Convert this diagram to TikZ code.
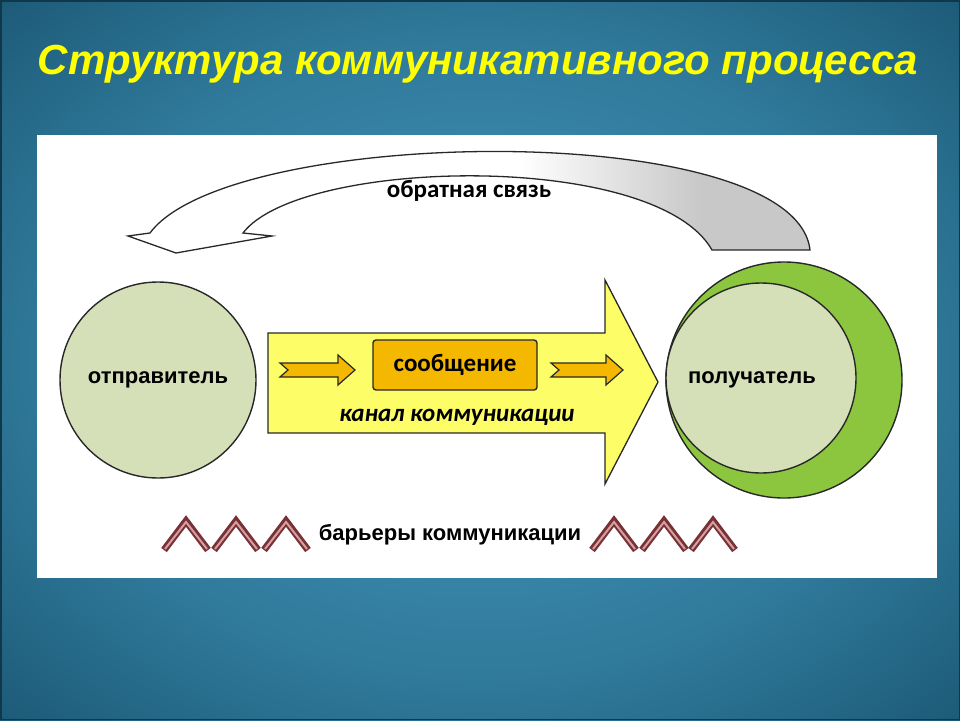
\documentclass[tikz,border=0pt]{standalone}
\usepackage{fontspec}
\setmainfont{Carlito}
\newfontfamily\titlefont{Liberation Sans}
\newfontfamily\arialfont{Liberation Sans}
\usetikzlibrary{shapes.geometric}
\definecolor{bgin}{RGB}{70,152,190}
\definecolor{bgmid}{RGB}{48,122,155}
\definecolor{bgout}{RGB}{22,80,108}
\definecolor{ttl}{RGB}{255,255,0}
\definecolor{circfill}{RGB}{214,224,184}
\definecolor{greenring}{RGB}{140,198,63}
\definecolor{yelarrow}{RGB}{253,253,104}
\definecolor{msgfill}{RGB}{245,184,0}
\definecolor{edge}{RGB}{40,40,40}
\definecolor{barrdark}{RGB}{120,50,55}
\definecolor{barrlight}{RGB}{215,160,160}
\definecolor{fbgray}{RGB}{200,200,200}
\pgfdeclareradialshading{bgshade}{\pgfpoint{0bp}{0bp}}{color(0bp)=(bgin); color(22bp)=(bgmid); color(40bp)=(bgout); color(100bp)=(bgout)}
\tikzset{
  x=1pt, y=-1pt,
  outl/.style={draw=edge, line width=1.4pt},
  smallarrow/.style={outl, fill=msgfill, line width=1.2pt, line join=miter},
  lbl/.style={inner sep=0pt, text=black},
  barr/.style={draw=barrdark, line width=7pt, line join=miter, line cap=butt},
  barrin/.style={draw=barrlight, line width=2pt, line join=miter, line cap=butt},
}
\newcommand{\chev}[1]{%
  \draw[barr] (#1-22,550) -- (#1,521) -- (#1+22,550);
  \draw[barrin] (#1-21,549) -- (#1,522) -- (#1+21,549);
}
\begin{document}
\begin{tikzpicture}
\useasboundingbox (0,0) rectangle (960,720);
% background
\shade[shading=bgshade] (0,0) rectangle (960,720);
\draw[bgout!70!black, line width=1.5pt] (0.75,0.75) rectangle (959.25,719.25);
% title
\node[lbl, text=ttl, font=\titlefont\bfseries\itshape\fontsize{42}{46}\selectfont] (title) at (478,64) {Структура коммуникативного процесса};
% white panel
\fill[white] (37,135) rectangle (937,578);
% feedback arrow
\begin{scope}
\clip (810,250) .. controls (795,118) and (230,125) .. (150,233)
  -- (243,233) .. controls (300,158) and (655,150) .. (712,250) -- cycle;
\shade[left color=white, right color=fbgray] (520,140) rectangle (700,260);
\fill[fbgray] (699,140) rectangle (820,260);
\end{scope}
\draw[outl, line width=1.3pt]
  (810,250) .. controls (795,118) and (230,125) .. (150,233)
  -- (128,236) -- (176,253) -- (272,236) -- (243,233)
  .. controls (300,158) and (655,150) .. (712,250) -- cycle;
\node[lbl, font=\bfseries\fontsize{25}{28}\selectfont] (fb) at (469,191) {обратная связь};
% sender
\node[circle, outl, fill=circfill, minimum size=196pt, inner sep=0pt] (sender) at (158,380) {};
\node[lbl, font=\arialfont\bfseries\fontsize{22}{24}\selectfont] at (sender) {отправитель};
% channel arrow
\path[outl, fill=yelarrow, line width=1.3pt]
  (268,333) -- (605,333) -- (605,280) -- (658,382) -- (605,484) -- (605,433) -- (268,433) -- cycle;
\node[lbl, font=\bfseries\itshape\fontsize{25}{28}\selectfont] (chan) at (457,417) {канал коммуникации};
% message
\node[outl, fill=msgfill, rounded corners=3pt, minimum width=164pt, minimum height=50pt, inner sep=0pt,
  font=\bfseries\fontsize{25}{28}\selectfont] (msg) at (455,365) {сообщение};
% small arrows
\path[smallarrow] (280,363) -- (338,363) -- (338,355) -- (355,370) -- (338,385) -- (338,377) -- (280,377) -- (288,370) -- cycle;
\path[smallarrow] (551,363) -- (606,363) -- (606,355) -- (623,370) -- (606,385) -- (606,377) -- (551,377) -- (559,370) -- cycle;
% receiver
\node[circle, outl, fill=greenring, minimum size=236pt, inner sep=0pt] (ring) at (784,380) {};
\node[circle, outl, fill=circfill, minimum size=190pt, inner sep=0pt] (receiver) at (761,378) {};
\node[lbl, font=\arialfont\bfseries\fontsize{22}{24}\selectfont] at (752,380) {получатель};
% barriers
\chev{186} \chev{236} \chev{286}
\chev{614} \chev{664} \chev{713}
\node[lbl, font=\arialfont\bfseries\fontsize{22}{24}\selectfont] (barr) at (450,535) {барьеры коммуникации};
\end{tikzpicture}
\end{document}
